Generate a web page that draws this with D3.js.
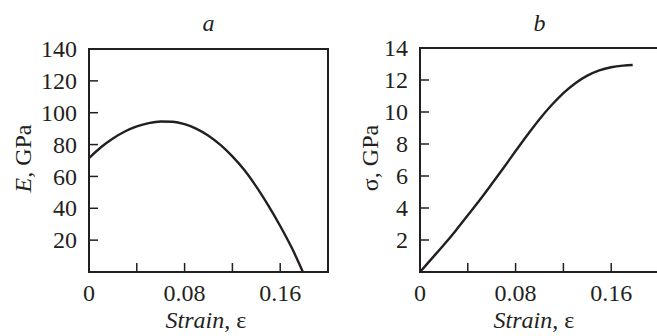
<!DOCTYPE html>
<html>
<head>
<meta charset="utf-8">
<script src="https://cdn.jsdelivr.net/npm/d3@7"></script>
<style>
  body { margin: 0; background: #fff; }
  svg { display: block; }
</style>
</head>
<body>
<div id="chart"></div>
<script>
// panel a: modulus vs strain
const strainA = [0, 0.01, 0.02, 0.03, 0.04, 0.05, 0.06, 0.07, 0.08, 0.09, 0.1, 0.11, 0.12, 0.13, 0.14, 0.15, 0.16, 0.17, 0.179]
const modulusA = [71.5, 78.3, 83.8, 88.2, 91.4, 93.5, 94.5, 94.3, 92.8, 89.9, 85.6, 79.8, 72.6, 64.0, 53.6, 41.8, 28.9, 14.7, 0]

// panel b: stress vs strain
const strainB = [0, 0.01, 0.02, 0.03, 0.04, 0.05, 0.06, 0.07, 0.08, 0.09, 0.1, 0.11, 0.12, 0.13, 0.14, 0.15, 0.16, 0.17, 0.178]
const stressB = [0, 0.85, 1.7, 2.6, 3.55, 4.5, 5.5, 6.52, 7.56, 8.58, 9.55, 10.42, 11.18, 11.8, 12.27, 12.6, 12.8, 12.9, 12.94]

const xTicks = [0, 0.04, 0.08, 0.12, 0.16]
const xLabels = [0, 0.08, 0.16]
const yTicksA = [20, 40, 60, 80, 100, 120, 140]
const yTicksB = [2, 4, 6, 8, 10, 12, 14]

const width = 657
const height = 336
const ink = '#231f20'
const font = '"Liberation Serif", "Times New Roman", Times, serif'

const svg = d3.select('#chart')
  .append('svg')
  .attr('width', width)
  .attr('height', height)
  .attr('font-family', font)

function panel (opts) {
  const { left, right, top, bottom, yMax, xs, ys, yTicks, title, yVar, ySymbolItalic, labelX, labelCenterX } = opts
  const x = d3.scaleLinear().domain([0, 0.2]).range([left, right])
  const y = d3.scaleLinear().domain([0, yMax]).range([bottom, top])
  const g = svg.append('g')

  // frame
  g.append('rect')
    .attr('x', left)
    .attr('y', top)
    .attr('width', right - left)
    .attr('height', bottom - top)
    .attr('fill', 'none')
    .attr('stroke', ink)
    .attr('stroke-width', 2)

  // inward ticks, bottom
  g.append('g')
    .selectAll('line')
    .data(xTicks.slice(1))
    .enter()
    .append('line')
    .attr('x1', (d) => x(d))
    .attr('x2', (d) => x(d))
    .attr('y1', bottom)
    .attr('y2', bottom - 9)
    .attr('stroke', ink)
    .attr('stroke-width', 1.5)

  // inward ticks, left
  g.append('g')
    .selectAll('line')
    .data(yTicks.slice(0, -1))
    .enter()
    .append('line')
    .attr('x1', left)
    .attr('x2', left + 9)
    .attr('y1', (d) => y(d))
    .attr('y2', (d) => y(d))
    .attr('stroke', ink)
    .attr('stroke-width', 1.5)

  // tick labels
  g.append('g')
    .selectAll('text')
    .data(xLabels)
    .enter()
    .append('text')
    .attr('x', (d) => x(d))
    .attr('y', bottom + 29)
    .attr('text-anchor', 'middle')
    .attr('font-size', 24)
    .attr('fill', ink)
    .text((d) => d)

  g.append('g')
    .selectAll('text')
    .data(yTicks)
    .enter()
    .append('text')
    .attr('x', left - 12)
    .attr('y', (d) => y(d))
    .attr('dy', '0.34em')
    .attr('text-anchor', 'end')
    .attr('font-size', 24)
    .attr('fill', ink)
    .text((d) => d)

  // curve
  const line = d3.line()
    .curve(d3.curveMonotoneX)
    .x((d, i) => x(xs[i]))
    .y((d, i) => y(ys[i]))

  g.append('path')
    .attr('d', line(xs))
    .attr('fill', 'none')
    .attr('stroke', ink)
    .attr('stroke-width', 2.4)

  // title
  g.append('text')
    .attr('x', x(0.1))
    .attr('y', 31)
    .attr('text-anchor', 'middle')
    .attr('font-size', 24)
    .attr('font-style', 'italic')
    .attr('fill', ink)
    .text(title)

  // x label
  const xl = g.append('text')
    .attr('x', labelCenterX)
    .attr('y', 328)
    .attr('text-anchor', 'middle')
    .attr('font-size', 24)
    .attr('fill', ink)
  xl.append('tspan').attr('font-style', 'italic').text('Strain')
  xl.append('tspan').text(', ε')

  // y label
  const yl = g.append('text')
    .attr('transform', `translate(${labelX}, ${(top + bottom) / 2 - 2}) rotate(-90)`)
    .attr('text-anchor', 'middle')
    .attr('font-size', 24)
    .attr('fill', ink)
  yl.append('tspan').attr('font-style', ySymbolItalic ? 'italic' : 'normal').text(yVar)
  yl.append('tspan').text(', GPa')
}

panel({
  left: 89, right: 328, top: 49, bottom: 272,
  yMax: 140, xs: strainA, ys: modulusA, yTicks: yTicksA,
  title: 'a', yVar: 'E', ySymbolItalic: true, labelX: 31, labelCenterX: 206
})

panel({
  left: 420, right: 659, top: 48, bottom: 272,
  yMax: 14, xs: strainB, ys: stressB, yTicks: yTicksB,
  title: 'b', yVar: 'σ', ySymbolItalic: false, labelX: 378, labelCenterX: 534
})
</script>
</body>
</html>
